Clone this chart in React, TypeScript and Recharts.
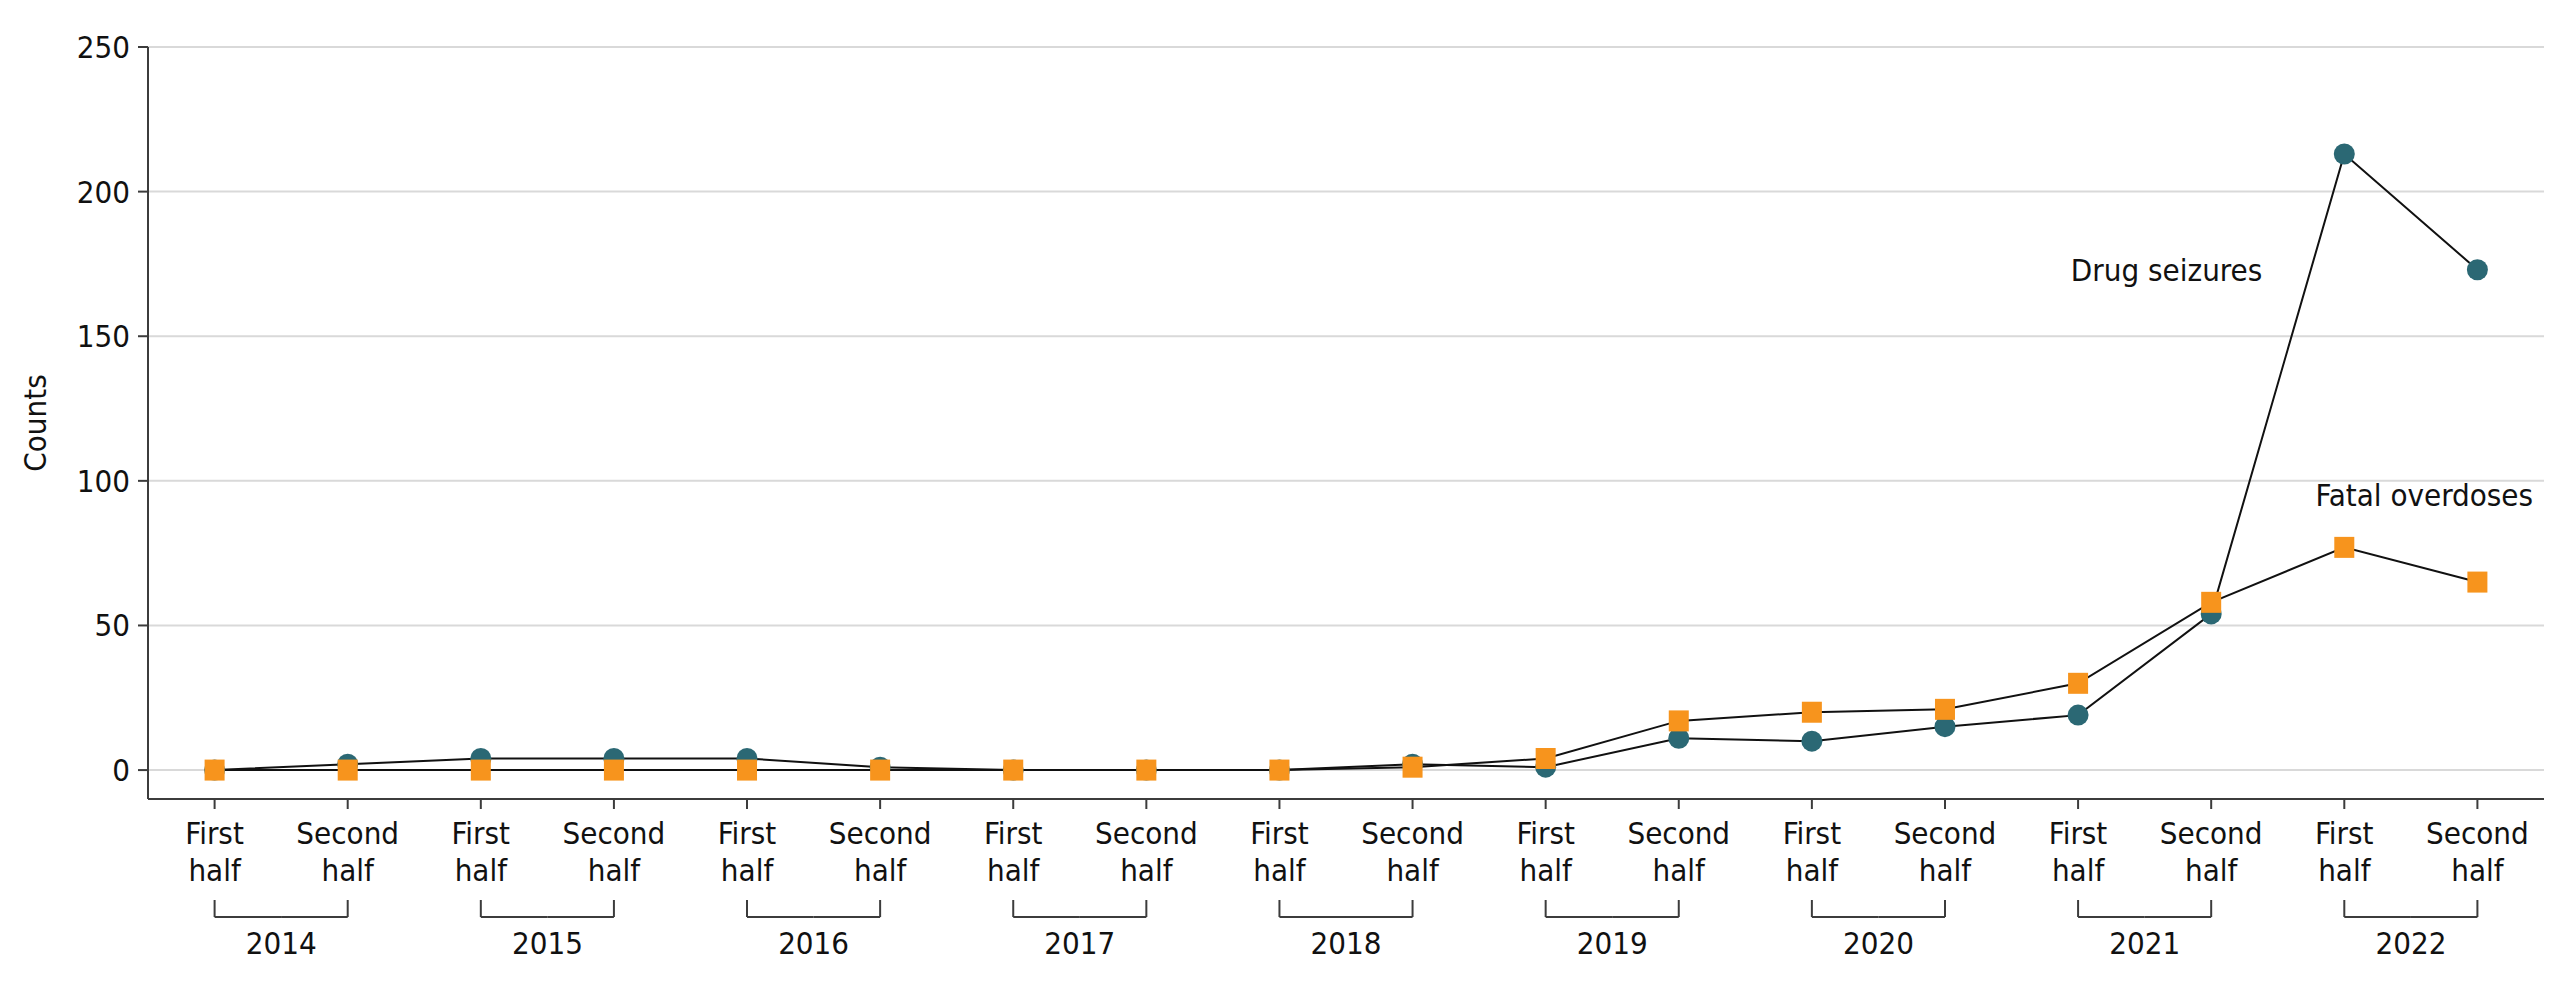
import { CartesianGrid, Label, Line, LineChart, ReferenceDot, XAxis, YAxis } from "recharts";

const years = ["2014", "2015", "2016", "2017", "2018", "2019", "2020", "2021", "2022"];
const halves = ["First half", "Second half"];
const drugSeizures = [0, 2, 4, 4, 4, 1, 0, 0, 0, 2, 1, 11, 10, 15, 19, 54, 213, 173];
const fatalOverdoses = [0, 0, 0, 0, 0, 0, 0, 0, 0, 1, 4, 17, 20, 21, 30, 58, 77, 65];
const yTicks = [0, 50, 100, 150, 200, 250];

const data = years.flatMap((year, yi) =>
  halves.map((half, hi) => ({
    key: `${year}-${hi}`,
    year,
    half,
    seizures: drugSeizures[yi * 2 + hi],
    overdoses: fatalOverdoses[yi * 2 + hi],
  }))
);

const FONT = "'Liberation Sans Narrow', 'DejaVu Sans Condensed', sans-serif";
const FS = 31;
const TEAL = "#2b6874";
const ORANGE = "#f7941d";
const AXIS = "#3c3c3c";
// half of the gap between two neighbouring categories
const HALF_STEP = 66.6;

function HalfTick(props: any) {
  const { x, y, index } = props;
  const row = data[index] ?? data[0];
  const [w1, w2] = row.half.split(" ");
  const first = index % 2 === 0;
  const top = y + 89;
  const bottom = y + 106;
  return (
    <g>
      <text x={x} y={y + 33} textAnchor="middle" fontSize={FS} fontFamily={FONT} fill="#111">
        {w1}
      </text>
      <text x={x} y={y + 70} textAnchor="middle" fontSize={FS} fontFamily={FONT} fill="#111">
        {w2}
      </text>
      <line x1={x} x2={x} y1={top} y2={bottom} stroke={AXIS} strokeWidth={2} />
      <line
        x1={x}
        x2={first ? x + HALF_STEP : x - HALF_STEP}
        y1={bottom}
        y2={bottom}
        stroke={AXIS}
        strokeWidth={2}
      />
      {first && (
        <text x={x + HALF_STEP} y={y + 143} textAnchor="middle" fontSize={FS} fontFamily={FONT} fill="#111">
          {row.year}
        </text>
      )}
    </g>
  );
}

const Circle = (props: any) => {
  const { cx, cy } = props;
  return <circle cx={cx} cy={cy} r={10.5} fill={TEAL} />;
};

const Square = (props: any) => {
  const { cx, cy } = props;
  return <rect x={cx - 10} y={cy - 10.5} width={20} height={21} fill={ORANGE} />;
};

export default function App() {
  return (
    <div style={{ position: "fixed", left: 0, top: 0, background: "#fff" }}>
      <LineChart
        width={2560}
        height={987}
        data={data}
        margin={{ top: 47, right: 16, bottom: 0, left: 0 }}
      >
        <CartesianGrid vertical={false} stroke="#d9d9d9" strokeWidth={2} />
        <XAxis
          dataKey="key"
          height={188}
          interval={0}
          padding={{ left: HALF_STEP, right: HALF_STEP }}
          tickSize={10}
          tickMargin={2}
          stroke={AXIS}
          strokeWidth={2}
          tick={<HalfTick />}
        />
        <YAxis
          width={148}
          domain={[-10, 250]}
          ticks={yTicks}
          interval={0}
          tickSize={10}
          tickMargin={8}
          stroke={AXIS}
          strokeWidth={2}
          tick={{ fill: "#111", fontSize: FS, fontFamily: FONT }}
        >
          <Label
            content={({ viewBox }: any) => {
              const cy = viewBox.y + viewBox.height / 2;
              return (
                <text
                  x={35}
                  y={cy}
                  transform={`rotate(-90, 35, ${cy})`}
                  textAnchor="middle"
                  dominantBaseline="central"
                  fontSize={FS}
                  fontFamily={FONT}
                  fill="#111"
                >
                  Counts
                </text>
              );
            }}
          />
        </YAxis>
        <Line
          dataKey="seizures"
          name="Drug seizures"
          stroke="#111"
          strokeWidth={2}
          dot={<Circle />}
          activeDot={false}
          isAnimationActive={false}
        />
        <Line
          dataKey="overdoses"
          name="Fatal overdoses"
          stroke="#111"
          strokeWidth={2}
          dot={<Square />}
          activeDot={false}
          isAnimationActive={false}
        />
        <ReferenceDot
          x="2022-0"
          y={173}
          r={0}
          label={({ viewBox }: any) => (
            <text
              x={viewBox.x - 82}
              y={viewBox.y}
              textAnchor="end"
              dominantBaseline="central"
              fontSize={FS}
              fontFamily={FONT}
              fill="#111"
            >
              Drug seizures
            </text>
          )}
        />
        <ReferenceDot
          x="2022-0"
          y={95}
          r={0}
          label={({ viewBox }: any) => (
            <text
              x={viewBox.x + 80}
              y={viewBox.y}
              textAnchor="middle"
              dominantBaseline="central"
              fontSize={FS}
              fontFamily={FONT}
              fill="#111"
            >
              Fatal overdoses
            </text>
          )}
        />
      </LineChart>
    </div>
  );
}
